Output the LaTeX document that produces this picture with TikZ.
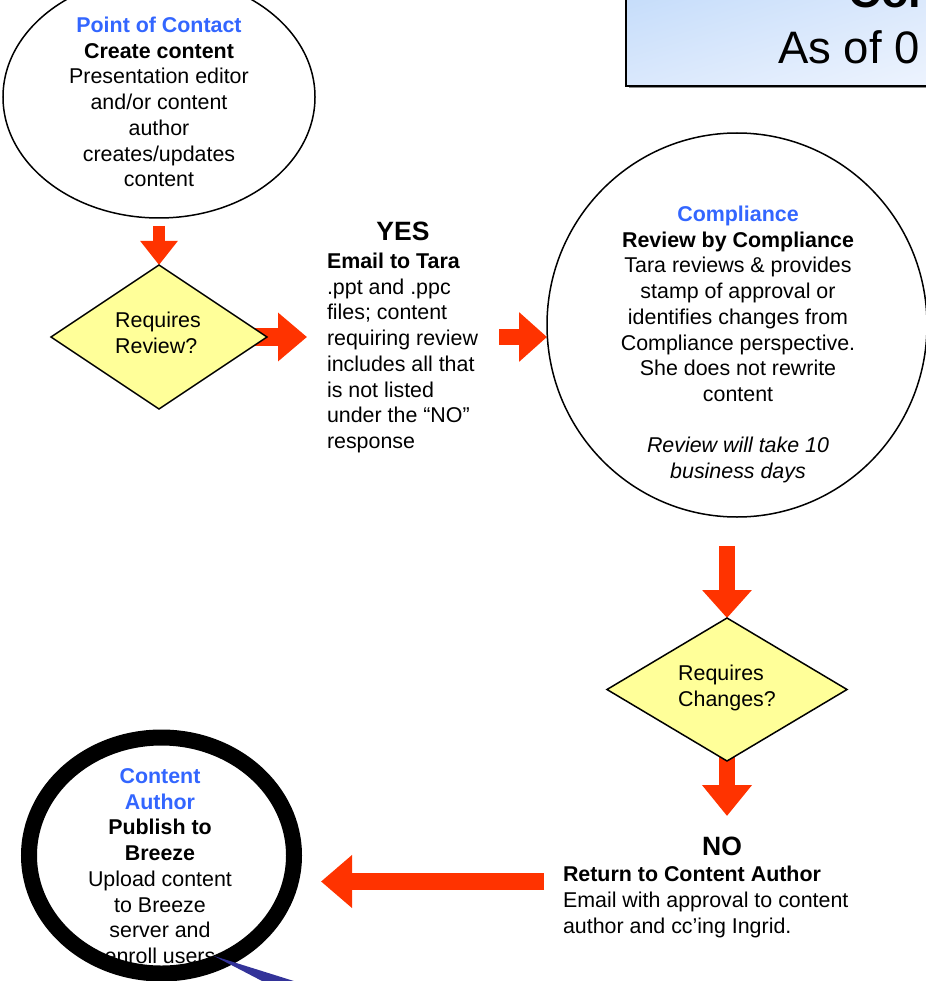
\documentclass[tikz,border=0pt]{standalone}
\usepackage{fontspec}
\setmainfont{Liberation Sans}
\usetikzlibrary{shapes.geometric,arrows.meta,shadings}
\pgfdeclarelayer{background}
\pgfdeclarelayer{foreground}
\pgfsetlayers{background,main,foreground}

\definecolor{flowred}{HTML}{FF3300}
\definecolor{rolecol}{HTML}{3366FF}
\definecolor{decfill}{HTML}{FFFF99}
\definecolor{wedgecol}{HTML}{333399}
\definecolor{bannerA}{HTML}{C4DCFA}
\definecolor{bannerB}{HTML}{DAE8FC}
\definecolor{bannerC}{HTML}{EEF4FE}

\newcommand\rolename[1]{\textcolor{rolecol}{\bfseries #1}}

\tikzset{
  body/.style={font=\fontsize{21.4}{25.7}\selectfont, inner sep=0pt, outer sep=0pt},
  headword/.style={font=\fontsize{26.5}{30}\selectfont\bfseries, inner sep=0pt},
  bannertext/.style={font=\fontsize{45.5}{50}\selectfont, inner sep=0pt, anchor=base west},
  bubble/.style={ellipse, draw, line width=1.5pt, inner sep=0pt, outer sep=0pt},
  decision/.style={diamond, draw, fill=decfill, line width=1.5pt, inner sep=0pt, outer sep=0pt},
  flow/.style n args={3}{draw=flowred, fill=flowred, line width=#1,
    -{Triangle[length=#2, width=#3]}},
}

\begin{document}
\begin{tikzpicture}[x=1pt,y=-1pt]
\useasboundingbox (0,0) rectangle (925,981);

% title banner (runs off the top and right edges)
\fill[black!45] (628.5,-10) rectangle (940,88.5);
\shade[upper left=bannerA, upper right=bannerB, lower left=bannerB, lower right=bannerC]
  (626,-10) rectangle (940,86);
\draw[line width=1.5pt] (626,-10) rectangle (940,86);
\node[bannertext, font=\fontsize{45.5}{50}\selectfont\bfseries] (banner1) at (848,8) {Con};
\node[bannertext] (banner2) at (778,64) {As of 0};

% point of contact
\node[bubble, minimum width=312pt, minimum height=242pt] (poc) at (159,97) {};
\node[body, align=center, anchor=north] (poctext) at (159,17)
  {\rolename{Point of Contact}\\\textbf{Create content}\\Presentation editor\\and/or content\\author\\creates/updates\\content};

% first decision
\node[decision, minimum width=216pt, minimum height=144pt] (review) at (159,337) {};
\node[body, align=left, anchor=north] (reviewtext) at (158,312.4) {Requires\\Review?};

% yes branch
\node[headword, anchor=base] (yes) at (403,241) {YES};
\node[body, align=left, anchor=north west] (yestext) at (327,253)
  {\textbf{Email to Tara}\\.ppt and .ppc\\files; content\\requiring review\\includes all that\\is not listed\\under the “NO”\\response};

% compliance review
\node[bubble, minimum width=380pt, minimum height=384pt] (comp) at (737,325) {};
\node[body, align=center, anchor=north] (comptext) at (738,206)
  {\rolename{Compliance}\\\textbf{Review by Compliance}\\Tara reviews \& provides\\stamp of approval or\\identifies changes from\\Compliance perspective.\\She does not rewrite\\content\\[25.7pt]\textit{Review will take 10}\\\textit{business days}};

% second decision
\node[decision, minimum width=240pt, minimum height=143pt] (changes) at (727,689.5) {};
\node[body, align=left, anchor=north] (changestext) at (727,665.4) {Requires\\Changes?};

% no branch
\node[headword, anchor=base] (no) at (722,855) {NO};
\node[body, align=left, anchor=north west] (notext) at (563,866.4)
  {\textbf{Return to Content Author}\\Email with approval to content\\author and cc’ing Ingrid.};

% publishing
\node[body, align=center, anchor=north] (pubtext) at (160,768.6)
  {\rolename{Content}\\\rolename{Author}\\\textbf{Publish to}\\\textbf{Breeze}\\Upload content\\to Breeze\\server and\\enroll users};

% free ends of the connectors
\coordinate (reviewyes) at (307,337);
\coordinate (yesfrom) at (499,337);
\coordinate (nodown) at (727,816);
\coordinate (backfrom) at (544,881.5);
\coordinate (backto) at (321,881.5);
\coordinate (pointer) at (214,956);

\begin{pgfonlayer}{background}
  \draw[flow={12pt}{24pt}{36pt}, shorten <=8pt] (poc.south) -- (review.north);
  \draw[flow={18pt}{29pt}{47pt}] (review.center) -- (reviewyes);
  \draw[flow={16pt}{28pt}{48pt}] (yesfrom) -- (comp.west |- yesfrom);
  \draw[flow={16pt}{28pt}{48pt}, shorten <=29pt] (changes.north |- comp.south) -- (changes.north);
  \draw[flow={16pt}{31pt}{48pt}] (changes.center) -- (nodown);
  \draw[flow={17pt}{31pt}{51pt}] (backfrom) -- (backto);
\end{pgfonlayer}

\begin{pgfonlayer}{foreground}
  \node[bubble, line width=16pt, minimum width=265pt, minimum height=236pt] (pub) at (161.5,855.5) {};
  \fill[wedgecol] (pointer) -- (297,982) -- (264,982) -- cycle;
\end{pgfonlayer}
\end{tikzpicture}
\end{document}
